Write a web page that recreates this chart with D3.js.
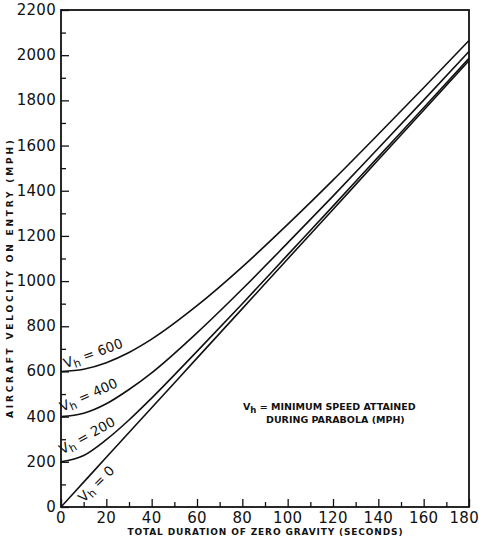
<!DOCTYPE html>
<html>
<head>
<meta charset="utf-8">
<script src="https://cdn.jsdelivr.net/npm/d3@7"></script>
<style>
  body { margin: 0; background: #fff; }
  text { font-family: "DejaVu Sans", sans-serif; fill: #111; }
</style>
</head>
<body>
<script>
//values (seconds, mph)
var seconds = [0, 10, 20, 30, 40, 60, 80, 100, 120, 140, 160, 180];
var vh0   = [0, 110, 220, 330, 439, 659, 878, 1098, 1317, 1537, 1756, 1976];
var vh200 = [200, 228, 298, 385, 482, 689, 900, 1116, 1332, 1550, 1767, 1986];
var vh400 = [400, 415, 457, 520, 594, 771, 965, 1169, 1376, 1588, 1801, 2016];
var vh600 = [600, 610, 639, 684, 743, 891, 1063, 1251, 1447, 1650, 1856, 2065];
var seriesNames = ["0", "200", "400", "600"];
var xTicks = [0, 20, 40, 60, 80, 100, 120, 140, 160, 180];
var yTicks = [0, 200, 400, 600, 800, 1000, 1200, 1400, 1600, 1800, 2000, 2200];

var width = 479, height = 541;
var plotLeft = 61, plotRight = 469, plotTop = 10, plotBottom = 507;

var svg = d3.select("body").append("svg")
    .attr("width", width)
    .attr("height", height);

var x = d3.scaleLinear().domain([0, 180]).range([plotLeft, plotRight]);
var y = d3.scaleLinear().domain([0, 2200]).range([plotBottom, plotTop]);

//frame
svg.append("rect")
    .attr("x", plotLeft).attr("y", plotTop)
    .attr("width", plotRight - plotLeft).attr("height", plotBottom - plotTop)
    .attr("fill", "none").attr("stroke", "#111").attr("stroke-width", 1.8);

//ticks point inward
var yAxis = d3.axisRight(y).tickValues(d3.range(0, 2201, 100))
    .tickSize(0).tickFormat("");
var yg = svg.append("g").attr("transform", "translate(" + plotLeft + ",0)").call(yAxis);
yg.select(".domain").remove();
yg.selectAll(".tick line")
    .attr("x2", function (d) { return d % 200 == 0 ? 8 : 5; })
    .attr("stroke", "#111").attr("stroke-width", 1.3);

var xAxis = d3.axisTop(x).tickValues(d3.range(0, 181, 10))
    .tickSize(0).tickFormat("");
var xg = svg.append("g").attr("transform", "translate(0," + plotBottom + ")").call(xAxis);
xg.select(".domain").remove();
xg.selectAll(".tick line")
    .attr("y2", function (d) { return d % 20 == 0 ? -8 : -5; })
    .attr("stroke", "#111").attr("stroke-width", 1.3);

//tick labels
svg.selectAll(".ylab")
    .data(yTicks)
    .enter()
    .append("text")
    .attr("class", "ylab")
    .attr("x", plotLeft - 5)
    .attr("y", function (d) { return y(d) + 5; })
    .attr("text-anchor", "end")
    .style("font-size", "15px")
    .style("letter-spacing", "0.3px")
    .text(function (d) { return d; });

svg.selectAll(".xlab")
    .data(xTicks)
    .enter()
    .append("text")
    .attr("class", "xlab")
    .attr("x", function (d) { return x(d); })
    .attr("y", plotBottom + 16)
    .attr("text-anchor", function (d) { return d == 180 ? "end" : "middle"; })
    .attr("dx", function (d) { return d == 180 ? 10 : 0; })
    .style("font-size", "15px")
    .style("letter-spacing", "0.3px")
    .text(function (d) { return d; });

//axis titles
svg.append("text")
    .attr("x", 265).attr("y", 535)
    .attr("text-anchor", "middle")
    .attr("textLength", 275).attr("lengthAdjust", "spacing")
    .style("font-size", "9px").style("font-weight", "bold")
    .text("TOTAL DURATION OF ZERO GRAVITY (SECONDS)");

svg.append("text")
    .attr("transform", "translate(13,279) rotate(-90)")
    .attr("text-anchor", "middle")
    .attr("textLength", 278).attr("lengthAdjust", "spacing")
    .style("font-size", "9px").style("font-weight", "bold")
    .text("AIRCRAFT VELOCITY ON ENTRY (MPH)");

//curves
var allSeries = [vh0, vh200, vh400, vh600];
var line = d3.line()
    .x(function (d, i) { return x(seconds[i]); })
    .y(function (d) { return y(d); })
    .curve(d3.curveMonotoneX);

svg.selectAll(".curve")
    .data(allSeries)
    .enter()
    .append("path")
    .attr("class", "curve")
    .attr("d", line)
    .attr("fill", "none")
    .attr("stroke", "#111")
    .attr("stroke-width", 1.6);

//curve labels
var labelPos = [
    {t: 10, v: 18, rot: -45},
    {t: 0.5, v: 232, rot: -29},
    {t: 0.5, v: 422, rot: -24},
    {t: 2, v: 614, rot: -20}
];

function vhLabel(g, sub) {
    g.append("tspan").text("V");
    g.append("tspan").attr("dy", 3).style("font-size", sub + "px").text("h");
}

seriesNames.forEach(function (name, i) {
    var p = labelPos[i];
    var t = svg.append("text")
        .attr("transform", "translate(" + x(p.t) + "," + y(p.v) + ") rotate(" + p.rot + ")")
        .style("font-size", "13.5px");
    vhLabel(t, 11);
    t.append("tspan").attr("dy", -3).text(" = " + name);
});

//note
var note = svg.append("text")
    .attr("x", 243).attr("y", 410)
    .style("font-size", "9.5px").style("font-weight", "bold");
vhLabel(note, 8.5);
note.append("tspan").attr("dy", -3).text(" = MINIMUM SPEED ATTAINED");

svg.append("text")
    .attr("x", 266).attr("y", 423)
    .style("font-size", "9.5px").style("font-weight", "bold")
    .text("DURING PARABOLA (MPH)");
</script>
</body>
</html>
